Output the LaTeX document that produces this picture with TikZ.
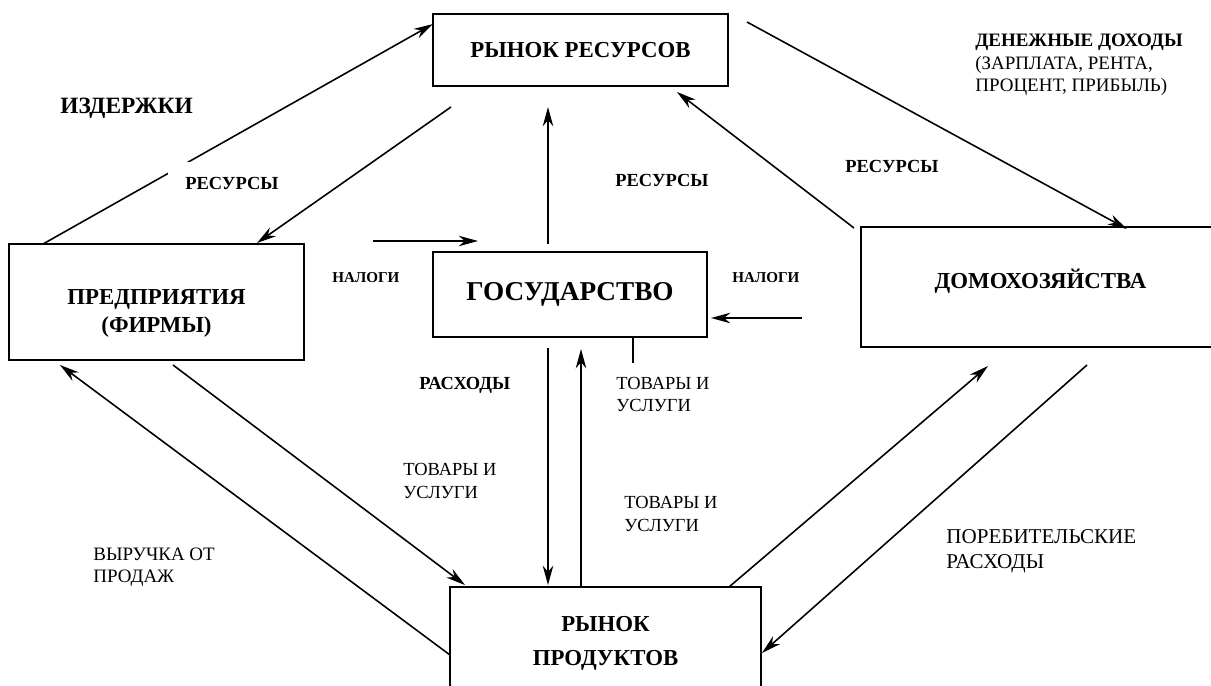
\documentclass[tikz,border=0pt]{standalone}
\usepackage{fontspec}
\setmainfont{Liberation Serif}
\usetikzlibrary{arrows.meta}

\tikzset{
    box/.style={draw, line width=0.8pt, inner sep=0pt, align=center,
        font=\bfseries\fontsize{13}{15.5}\selectfont},
    boxtext/.style={align=center, inner sep=0pt, font=\bfseries\fontsize{13}{15.5}\selectfont},
    flow/.style={line width=0.9pt, -{Stealth[length=11pt,width=6pt,inset=3.5pt]}},
    stub/.style={line width=0.9pt},
    boldlabel/.style={anchor=west, inner sep=0pt, font=\bfseries\fontsize{10.5}{12.5}\selectfont},
    textlabel/.style={anchor=west, inner sep=0pt, align=left, font=\fontsize{10.5}{13}\selectfont}
}

\begin{document}
\begin{tikzpicture}[x=0.02cm, y=-0.02cm]
    \useasboundingbox (0,0) rectangle (1211,686);
    \clip (0,0) rectangle (1211,686);

    % boxes
    \node[box, minimum width=5.9cm, minimum height=1.44cm] (resmkt) at (580.5,50) {РЫНОК РЕСУРСОВ};
    \node[box, minimum width=5.9cm, minimum height=2.32cm,
        label={[boxtext, yshift=-6.5pt]center:ПРЕДПРИЯТИЯ\\(ФИРМЫ)}] (firms) at (156.5,302) {};
    \node[box, minimum width=5.48cm, minimum height=1.7cm,
        font=\bfseries\fontsize{15.5}{18}\selectfont] (gov) at (570,294.5) {ГОСУДАРСТВО};
    \node[box, minimum width=7.18cm, minimum height=2.4cm,
        label={[boxtext, yshift=3.4pt]center:ДОМОХОЗЯЙСТВА}] (house) at (1040.5,287) {};
    \node[box, minimum width=6.22cm, minimum height=2.26cm] (prodmkt) at (605.5,643.5) {РЫНОК\\[4pt]ПРОДУКТОВ};

    % ends of the flows
    \coordinate (costsA) at (43,244);
    \coordinate (costsB) at (433,24);
    \coordinate (resA) at (451,107);
    \coordinate (resB) at (257,243);
    \coordinate (govresA) at (548,244);
    \coordinate (govresB) at (548,107);
    \coordinate (taxfA) at (373,241);
    \coordinate (taxfB) at (478,241);
    \coordinate (taxhA) at (802,318);
    \coordinate (taxhB) at (711,318);
    \coordinate (hresA) at (854,228);
    \coordinate (hresB) at (677,92);
    \coordinate (incA) at (747,22);
    \coordinate (incB) at (1127,229);
    \coordinate (revA) at (450,655);
    \coordinate (revB) at (60,365);
    \coordinate (goodsA) at (173,365);
    \coordinate (goodsB) at (465,585);
    \coordinate (spendA) at (548,348);
    \coordinate (spendB) at (548,585);
    \coordinate (ggoodsA) at (581,587);
    \coordinate (ggoodsB) at (581,349);
    \coordinate (stubA) at (633,337);
    \coordinate (stubB) at (633,363);
    \coordinate (hgoodsA) at (729,587);
    \coordinate (hgoodsB) at (988,366);
    \coordinate (consA) at (1087,365);
    \coordinate (consB) at (762,653);

    \draw[flow] (costsA) -- (costsB);
    \draw[flow] (resA) -- (resB);
    \draw[flow] (govresA) -- (govresB);
    \draw[flow] (taxfA) -- (taxfB);
    \draw[flow] (taxhA) -- (taxhB);
    \draw[flow] (hresA) -- (hresB);
    \draw[flow] (incA) -- (incB);
    \draw[flow] (revA) -- (revB);
    \draw[flow] (goodsA) -- (goodsB);
    \draw[flow] (spendA) -- (spendB);
    \draw[flow] (ggoodsA) -- (ggoodsB);
    \draw[stub] (stubA) -- (stubB);
    \draw[flow] (hgoodsA) -- (hgoodsB);
    \draw[flow] (consA) -- (consB);

    % labels
    \node[boldlabel, font=\bfseries\fontsize{13.3}{15}\selectfont] (costs) at (60,108) {ИЗДЕРЖКИ};
    \node[boldlabel, fill=white, inner xsep=10pt, inner ysep=8.5pt] (resleft) at (167.4,183) {РЕСУРСЫ};
    \node[boldlabel] (resmid) at (615,180) {РЕСУРСЫ};
    \node[boldlabel] (resright) at (845,166) {РЕСУРСЫ};
    \node[textlabel, font=\fontsize{10.8}{12.8}\selectfont] (income) at (975,65)
        {\textbf{ДЕНЕЖНЫЕ ДОХОДЫ}\\(ЗАРПЛАТА, РЕНТА,\\ПРОЦЕНТ, ПРИБЫЛЬ)};
    \node[boldlabel, font=\bfseries\fontsize{8.6}{10}\selectfont] (taxleft) at (332,278) {НАЛОГИ};
    \node[boldlabel, font=\bfseries\fontsize{8.6}{10}\selectfont] (taxright) at (732,278) {НАЛОГИ};
    \node[boldlabel] (spend) at (419,385) {РАСХОДЫ};
    \node[textlabel] (goodsgov) at (616,394.5) {ТОВАРЫ И\\УСЛУГИ};
    \node[textlabel] (goodsfirms) at (403,481) {ТОВАРЫ И\\УСЛУГИ};
    \node[textlabel] (goodsmkt) at (624,514) {ТОВАРЫ И\\УСЛУГИ};
    \node[textlabel, font=\fontsize{10.8}{12.5}\selectfont] (revenue) at (93,567) {ВЫРУЧКА ОТ\\ПРОДАЖ};
    \node[textlabel, font=\fontsize{12}{14.5}\selectfont] (consumption) at (946,551) {ПОРЕБИТЕЛЬСКИЕ\\РАСХОДЫ};
\end{tikzpicture}
\end{document}
